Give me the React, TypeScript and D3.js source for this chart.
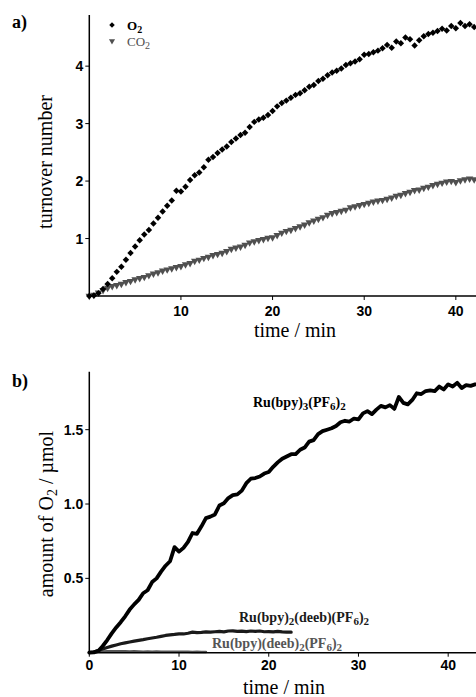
import React from 'react';
import * as d3 from 'd3';

// ---------- data ----------
const TIME_STEP = 0.5; // min between samples

// panel a) turnover number vs time
const O2_TON = [
  0.00, 0.01, 0.05, 0.12, 0.21, 0.31, 0.42, 0.51, 0.63, 0.75,
  0.86, 0.97, 1.07, 1.15, 1.26, 1.36, 1.47, 1.57, 1.66, 1.83,
  1.82, 1.90, 2.02, 2.10, 2.15, 2.24, 2.37, 2.42, 2.49, 2.55,
  2.60, 2.68, 2.74, 2.80, 2.84, 2.94, 3.03, 3.07, 3.10, 3.15,
  3.22, 3.30, 3.36, 3.40, 3.45, 3.50, 3.53, 3.58, 3.64, 3.67,
  3.74, 3.78, 3.84, 3.89, 3.92, 3.96, 4.02, 4.05, 4.08, 4.12,
  4.20, 4.21, 4.24, 4.27, 4.31, 4.37, 4.32, 4.43, 4.40, 4.50,
  4.47, 4.36, 4.45, 4.52, 4.56, 4.58, 4.61, 4.65, 4.62, 4.70,
  4.66, 4.75, 4.70, 4.73, 4.68,
];
const CO2_TON = [
  0.00, 0.02, 0.06, 0.10, 0.14, 0.17, 0.19, 0.21, 0.24, 0.26,
  0.29, 0.31, 0.33, 0.36, 0.39, 0.41, 0.44, 0.46, 0.48, 0.50,
  0.52, 0.55, 0.57, 0.61, 0.63, 0.66, 0.68, 0.71, 0.73, 0.75,
  0.78, 0.82, 0.84, 0.86, 0.89, 0.93, 0.95, 0.97, 0.99, 1.01,
  1.02, 1.06, 1.10, 1.13, 1.15, 1.18, 1.21, 1.24, 1.28, 1.31,
  1.34, 1.37, 1.41, 1.44, 1.46, 1.48, 1.50, 1.54, 1.56, 1.58,
  1.60, 1.62, 1.64, 1.66, 1.67, 1.69, 1.71, 1.74, 1.76, 1.79,
  1.81, 1.84, 1.85, 1.88, 1.90, 1.93, 1.95, 1.97, 1.99, 2.00,
  1.98, 2.01, 2.03, 2.04, 2.03,
];

// panel b) amount of O2 (µmol) vs time
const RU_BPY3 = [
  0.000, 0.002, 0.012, 0.045, 0.085, 0.130, 0.170, 0.205, 0.245, 0.290,
  0.325, 0.355, 0.400, 0.420, 0.475, 0.500, 0.545, 0.585, 0.615, 0.710,
  0.680, 0.705, 0.745, 0.805, 0.800, 0.850, 0.905, 0.915, 0.930, 0.990,
  1.005, 1.040, 1.060, 1.065, 1.090, 1.140, 1.170, 1.175, 1.185, 1.205,
  1.215, 1.250, 1.280, 1.305, 1.320, 1.335, 1.335, 1.365, 1.380, 1.420,
  1.430, 1.470, 1.490, 1.500, 1.510, 1.525, 1.550, 1.560, 1.555, 1.575,
  1.570, 1.610, 1.625, 1.605, 1.635, 1.660, 1.650, 1.665, 1.640, 1.720,
  1.680, 1.670, 1.700, 1.745, 1.740, 1.760, 1.765, 1.760, 1.790, 1.770,
  1.805, 1.790, 1.815, 1.780, 1.800, 1.795, 1.805,
];
const RU_BPY2_DEEB = [
  0.000, 0.005, 0.015, 0.025, 0.035, 0.044, 0.052, 0.060, 0.066, 0.072,
  0.078, 0.083, 0.088, 0.094, 0.099, 0.104, 0.110, 0.116, 0.120, 0.123,
  0.127, 0.126, 0.131, 0.138, 0.135, 0.137, 0.140, 0.138, 0.141, 0.143,
  0.140, 0.146, 0.147, 0.143, 0.145, 0.142, 0.146, 0.144, 0.146, 0.141,
  0.142, 0.140, 0.143, 0.140, 0.139, 0.138,
];
const RU_BPY_DEEB2 = [
  0.004, 0.006, 0.007, 0.008, 0.009, 0.009, 0.010, 0.009, 0.010, 0.008,
  0.009, 0.008, 0.007, 0.008, 0.007, 0.008, 0.007, 0.006, 0.007, 0.006,
  0.007, 0.006, 0.006, 0.005, 0.006, 0.005, 0.005,
];

const TOP_X_TICKS = [10, 20, 30, 40];
const TOP_Y_TICKS = [1, 2, 3, 4];
const BOT_X_TICKS = [0, 10, 20, 30, 40];
const BOT_Y_TICKS = [0.5, 1.0, 1.5];

// ---------- helpers ----------
type Part = [string, boolean]; // text, isSubscript

function rich(parts: Part[], subSize: number, shift: number) {
  let cur = 0;
  return parts.map(([t, sub], i) => {
    const target = sub ? shift : 0;
    const dy = target - cur;
    cur = target;
    return (
      <tspan key={i} dy={dy} fontSize={sub ? subSize : undefined}>
        {t}
      </tspan>
    );
  });
}

const SANS = "'Liberation Sans', Arial, sans-serif";
const SERIF = "'Liberation Serif', 'Times New Roman', serif";

export default function App() {
  const W = 476;
  const H = 697;

  // panel a scales
  const xA = d3.scaleLinear().domain([0, 42.2]).range([89.3, 476]);
  const yA = d3.scaleLinear().domain([0, 4.89]).range([296, 15]);
  // panel b scales
  const xB = d3.scaleLinear().domain([0, 43.1]).range([89.3, 476]);
  const yB = d3.scaleLinear().domain([0, 1.89]).range([652.7, 371.7]);

  const diamond = d3.symbol().type(d3.symbolSquare).size(21)()!;
  const diamondLegend = d3.symbol().type(d3.symbolSquare).size(15)()!;
  const triangle = d3.symbol().type(d3.symbolTriangle).size(24)()!;
  const triangleLegend = d3.symbol().type(d3.symbolTriangle).size(16)()!;

  const lineB = d3
    .line<number>()
    .x((_, i) => xB(i * TIME_STEP))
    .y((d) => yB(d));

  const axisW = 1.5;
  const tick = 4;

  return (
    <svg
      width={W}
      height={H}
      style={{ position: 'absolute', left: 0, top: 0, background: '#fff' }}
    >
      <rect x={0} y={0} width={W} height={H} fill="#fff" />

      {/* ================= panel a ================= */}
      <text x={12} y={28} fontFamily={SERIF} fontWeight="bold" fontSize={18}>
        a)
      </text>

      {/* CO2 markers */}
      <g fill="#505050">
        {CO2_TON.map((v, i) => (
          <path
            key={'c' + i}
            d={triangle}
            transform={`translate(${xA(i * TIME_STEP)},${yA(v)}) rotate(180)`}
          />
        ))}
      </g>
      {/* O2 markers */}
      <g fill="#000">
        {O2_TON.map((v, i) => (
          <path
            key={'o' + i}
            d={diamond}
            transform={`translate(${xA(i * TIME_STEP)},${yA(v)}) rotate(45)`}
          />
        ))}
      </g>

      {/* axes a */}
      <g stroke="#000" strokeWidth={axisW} fill="none">
        <line x1={xA(0)} x2={xA(0)} y1={yA.range()[1]} y2={yA(0)} />
        <line x1={xA(0) - 0.75} x2={W} y1={yA(0)} y2={yA(0)} />
        {TOP_Y_TICKS.map((t) => (
          <line key={t} x1={xA(0) - tick} x2={xA(0)} y1={yA(t)} y2={yA(t)} strokeWidth={1} />
        ))}
        {TOP_X_TICKS.map((t) => (
          <line key={t} x1={xA(t)} x2={xA(t)} y1={yA(0)} y2={yA(0) + tick} strokeWidth={1} />
        ))}
      </g>
      <g fontFamily={SANS} fontWeight="bold" fontSize={14} fill="#000">
        {TOP_Y_TICKS.map((t) => (
          <text key={t} x={xA(0) - 6} y={yA(t) + 5} textAnchor="end">
            {t}
          </text>
        ))}
        {TOP_X_TICKS.map((t) => (
          <text key={t} x={xA(t)} y={yA(0) + 20} textAnchor="middle">
            {t}
          </text>
        ))}
      </g>
      <text
        transform="translate(52,162) rotate(-90)"
        textAnchor="middle"
        fontFamily={SERIF}
        fontSize={20}
      >
        turnover number
      </text>
      <text x={295} y={337} textAnchor="middle" fontFamily={SERIF} fontSize={20}>
        time / min
      </text>

      {/* legend a */}
      <path d={diamondLegend} transform="translate(112,25) rotate(45)" fill="#000" />
      <text x={127} y={30} fontFamily={SERIF} fontWeight="bold" fontSize={13} fill="#000">
        {rich([['O', false], ['2', true]], 10, 3)}
      </text>
      <path d={triangleLegend} transform="translate(112,41) rotate(180)" fill="#505050" />
      <text x={127} y={46} fontFamily={SERIF} fontSize={13} fill="#505050">
        {rich([['CO', false], ['2', true]], 10, 3)}
      </text>

      {/* ================= panel b ================= */}
      <text x={12} y={387} fontFamily={SERIF} fontWeight="bold" fontSize={18}>
        b)
      </text>

      <g fill="none" strokeLinejoin="round" strokeLinecap="round">
        <path d={lineB(RU_BPY_DEEB2)!} stroke="#555" strokeWidth={2.5} />
        <path d={lineB(RU_BPY2_DEEB)!} stroke="#1a1a1a" strokeWidth={3.2} />
        <path d={lineB(RU_BPY3)!} stroke="#000" strokeWidth={3.8} />
      </g>

      {/* axes b */}
      <g stroke="#000" strokeWidth={axisW} fill="none">
        <line x1={xB(0)} x2={xB(0)} y1={yB.range()[1]} y2={yB(0)} />
        <line x1={xB(0) - 0.75} x2={W} y1={yB(0)} y2={yB(0)} />
        {BOT_Y_TICKS.map((t) => (
          <line key={t} x1={xB(0) - tick} x2={xB(0)} y1={yB(t)} y2={yB(t)} strokeWidth={1} />
        ))}
        {BOT_X_TICKS.map((t) => (
          <line key={t} x1={xB(t)} x2={xB(t)} y1={yB(0)} y2={yB(0) + tick} strokeWidth={1} />
        ))}
      </g>
      <g fontFamily={SANS} fontWeight="bold" fontSize={14} fill="#000">
        {BOT_Y_TICKS.map((t) => (
          <text key={t} x={xB(0) - 6} y={yB(t) + 5} textAnchor="end">
            {d3.format('.1f')(t)}
          </text>
        ))}
        {BOT_X_TICKS.map((t) => (
          <text key={t} x={xB(t)} y={yB(0) + 17} textAnchor="middle">
            {t}
          </text>
        ))}
      </g>
      <text
        transform="translate(53,514) rotate(-90)"
        textAnchor="middle"
        fontFamily={SERIF}
        fontSize={20}
      >
        {rich(
          [
            ['amount of O', false],
            ['2', true],
            [' / µmol', false],
          ],
          14,
          4
        )}
      </text>
      <text x={284} y={694} textAnchor="middle" fontFamily={SERIF} fontSize={20}>
        time / min
      </text>

      {/* annotations b */}
      <g fontFamily={SERIF} fontWeight="bold" fontSize={14}>
        <text x={253} y={406.5} fill="#000">
          {rich(
            [
              ['Ru(bpy)', false],
              ['3', true],
              ['(PF', false],
              ['6', true],
              [')', false],
              ['2', true],
            ],
            11,
            3
          )}
        </text>
        <text x={239} y={621.5} fill="#1a1a1a">
          {rich(
            [
              ['Ru(bpy)', false],
              ['2', true],
              ['(deeb)(PF', false],
              ['6', true],
              [')', false],
              ['2', true],
            ],
            11,
            3
          )}
        </text>
        <text x={212} y={648} fill="#555">
          {rich(
            [
              ['Ru(bpy)(deeb)', false],
              ['2', true],
              ['(PF', false],
              ['6', true],
              [')', false],
              ['2', true],
            ],
            11,
            3
          )}
        </text>
      </g>
    </svg>
  );
}
